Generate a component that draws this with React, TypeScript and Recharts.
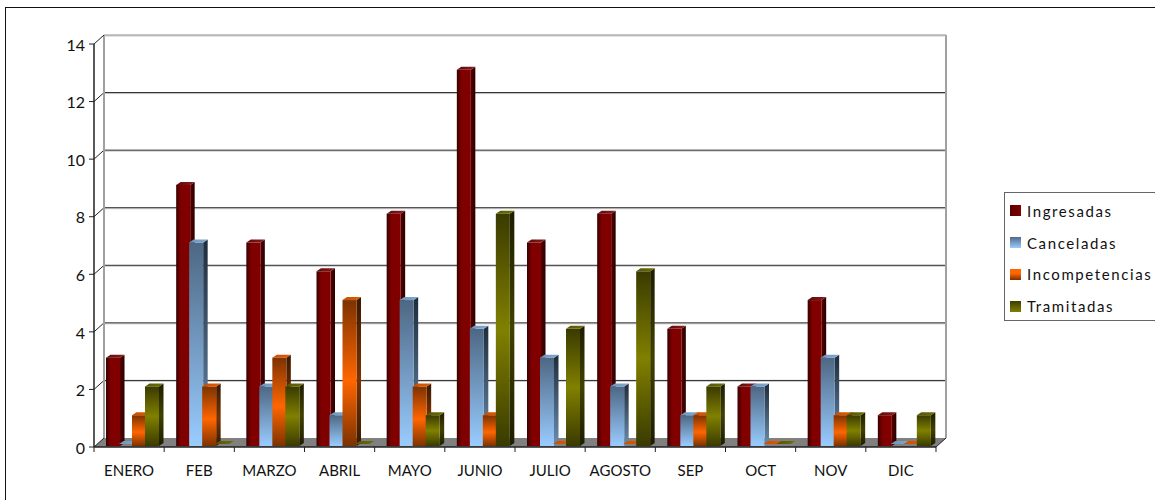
import { Bar, BarChart, CartesianGrid, Legend, XAxis, YAxis } from "recharts";

// values
const months = ["ENERO", "FEB", "MARZO", "ABRIL", "MAYO", "JUNIO", "JULIO", "AGOSTO", "SEP", "OCT", "NOV", "DIC"];
const ingresadas = [3, 9, 7, 6, 8, 13, 7, 8, 4, 2, 5, 1];
const canceladas = [0, 7, 2, 1, 5, 4, 3, 2, 1, 2, 3, 0];
const incompetencias = [1, 2, 3, 5, 2, 1, 0, 0, 1, 0, 1, 0];
const tramitadas = [2, 0, 2, 0, 1, 8, 4, 6, 2, 0, 1, 1];
const yTicks = [0, 2, 4, 6, 8, 10, 12, 14];

const data = months.map((month, i) => ({
  month,
  Ingresadas: ingresadas[i],
  Canceladas: canceladas[i],
  Incompetencias: incompetencias[i],
  Tramitadas: tramitadas[i],
}));

const fontFamily = "Lato, sans-serif";

// how far the back wall sits from the axes
const WALL_X = 10;
const WALL_Y = 9;
// bars stand a bit behind the axis, with a small depth of their own
const BAR_X = 3;
const BAR_Y = -3;
const DEPTH_X = 4.5;
const DEPTH_Y = 3;

const Bar3D = (props: any) => {
  const { x, y, width, height, id } = props;
  const left = x + BAR_X;
  const top = y + BAR_Y;
  const right = left + width + 1;
  // the faces run down to just above the axis line
  const faceHeight = height + 2;
  const bottom = top + faceHeight;
  return (
    <g>
      {height > 0 && (
        <polygon
          points={`${right},${top} ${right + DEPTH_X},${top - DEPTH_Y} ${right + DEPTH_X},${bottom - DEPTH_Y} ${right},${bottom}`}
          fill={`url(#${id}Side)`}
        />
      )}
      {height > 0 && <rect x={left} y={top} width={width + 1} height={faceHeight} fill={`url(#${id}Front)`} />}
      <polygon
        points={`${left},${top} ${left + DEPTH_X},${top - DEPTH_Y} ${right + DEPTH_X},${top - DEPTH_Y} ${right},${top}`}
        fill={`url(#${id}Top)`}
      />
    </g>
  );
};

const GridLine = (props: any) => {
  const { x1, x2, y1, index } = props;
  const isFloor = y1 > 440;
  const isTop = y1 < 50;
  return (
    <g key={index}>
      {isFloor && (
        <polygon
          points={`${x1},${y1} ${x1 + WALL_X},${y1 - WALL_Y} ${x2 + WALL_X},${y1 - WALL_Y} ${x2},${y1}`}
          fill="#808080"
        />
      )}
      {isTop && (
        <>
          <line x1={x1 + WALL_X} x2={x1 + WALL_X} y1={y1 - WALL_Y} y2={y1 + 403 - WALL_Y} stroke="#a0a0a0" strokeWidth={2} />
          <line x1={x2 + WALL_X} x2={x2 + WALL_X} y1={y1 - WALL_Y} y2={y1 + 403 - WALL_Y} stroke="#a0a0a0" strokeWidth={2} />
        </>
      )}
      {!isFloor && (
        <>
          <line x1={x1 + WALL_X} x2={x2 + WALL_X} y1={y1 - WALL_Y + 1} y2={y1 - WALL_Y + 1} stroke="#c8c8c8" />
          <line
            x1={x1 + WALL_X}
            x2={x2 + WALL_X}
            y1={y1 - WALL_Y}
            y2={y1 - WALL_Y}
            stroke={isTop ? "#8c8c8c" : "#2a2a2a"}
          />
        </>
      )}
      <line x1={x1} x2={x1 + WALL_X} y1={y1} y2={y1 - WALL_Y} stroke="#222" />
      {isFloor && <line x1={x2} x2={x2 + WALL_X} y1={y1} y2={y1 - WALL_Y} stroke="#222" />}
    </g>
  );
};

// tick marks fall between the months, not under them
const MonthTick = (props: any) => {
  const { x, y, payload, index } = props;
  const half = 35.08;
  return (
    <g>
      <line x1={x - half} x2={x - half} y1={y - 8} y2={y - 3} stroke="#222" />
      {index === months.length - 1 && <line x1={x + half} x2={x + half} y1={y - 8} y2={y - 3} stroke="#222" />}
      <text x={x} y={y + 21} textAnchor="middle" fontSize={15} fontFamily={fontFamily} fill="#111">
        {payload.value}
      </text>
    </g>
  );
};

const swatches: Record<string, string> = {
  Ingresadas: "linear-gradient(90deg, #5a0000, #800000)",
  Canceladas: "linear-gradient(180deg, #4f6a88, #99ccff)",
  Incompetencias: "linear-gradient(180deg, #ff6600 40%, #7a3000)",
  Tramitadas: "linear-gradient(180deg, #3c3c00, #808000)",
};

const LegendBox = ({ payload }: any) => (
  <div
    style={{
      boxSizing: "border-box",
      width: 160,
      height: 129,
      border: "1.5px solid #666",
      background: "#fff",
      paddingTop: 2,
      fontFamily,
      fontSize: 15,
      letterSpacing: 1.6,
      color: "#111",
    }}
  >
    {(payload || []).map((item: any) => (
      <div key={item.value} style={{ display: "flex", alignItems: "center", height: 31.8, paddingLeft: 5 }}>
        <span style={{ width: 11, height: 11, marginRight: 6, background: swatches[item.value] }} />
        {item.value}
      </div>
    ))}
  </div>
);

const App = () => (
  <div style={{ position: "absolute", left: 0, top: 0, width: 1155, height: 500, overflow: "hidden", background: "#fff" }}>
    <div
      style={{
        position: "absolute",
        left: 5,
        top: 7,
        width: 1160,
        height: 500,
        borderTop: "1.5px solid #111",
        borderLeft: "1.5px solid #111",
      }}
    />
    <BarChart
      width={1155}
      height={500}
      data={data}
      margin={{ top: 44, right: 219, bottom: 23, left: 34 }}
      barSize={13}
      barGap={0}
      style={{ position: "absolute", left: 0, top: 0 }}
    >
      <defs>
        <linearGradient id="redFront" x1="0" y1="0" x2="1" y2="0">
          <stop offset="0" stopColor="#3a0000" />
          <stop offset="0.35" stopColor="#800000" />
          <stop offset="1" stopColor="#800000" />
        </linearGradient>
        <linearGradient id="redSide" x1="0" y1="0" x2="1" y2="0">
          <stop offset="0" stopColor="#560000" />
          <stop offset="1" stopColor="#2a0000" />
        </linearGradient>
        <linearGradient id="redTop" x1="0" y1="0" x2="1" y2="0">
          <stop offset="0" stopColor="#5a0a0a" />
          <stop offset="1" stopColor="#8c1c1c" />
        </linearGradient>
        <linearGradient id="blueFront" x1="0" y1="0" x2="0" y2="1">
          <stop offset="0" stopColor="#4d6783" />
          <stop offset="1" stopColor="#99ccff" />
        </linearGradient>
        <linearGradient id="blueSide" x1="0" y1="0" x2="0" y2="1">
          <stop offset="0" stopColor="#1f2c3a" />
          <stop offset="1" stopColor="#6a8db0" />
        </linearGradient>
        <linearGradient id="blueTop" x1="0" y1="0" x2="1" y2="0">
          <stop offset="0" stopColor="#6f94bb" />
          <stop offset="1" stopColor="#7fa8d0" />
        </linearGradient>
        <linearGradient id="orangeFront" x1="0" y1="0" x2="0" y2="1">
          <stop offset="0" stopColor="#7c3200" />
          <stop offset="0.55" stopColor="#ff6600" />
          <stop offset="1" stopColor="#7c3200" />
        </linearGradient>
        <linearGradient id="orangeSide" x1="0" y1="0" x2="0" y2="1">
          <stop offset="0" stopColor="#3a1800" />
          <stop offset="0.55" stopColor="#7c3200" />
          <stop offset="1" stopColor="#3a1800" />
        </linearGradient>
        <linearGradient id="orangeTop" x1="0" y1="0" x2="1" y2="0">
          <stop offset="0" stopColor="#c95000" />
          <stop offset="1" stopColor="#e05a00" />
        </linearGradient>
        <linearGradient id="oliveFront" x1="0" y1="0" x2="0" y2="1">
          <stop offset="0" stopColor="#3a3a00" />
          <stop offset="0.5" stopColor="#808000" />
          <stop offset="1" stopColor="#3a3a00" />
        </linearGradient>
        <linearGradient id="oliveSide" x1="0" y1="0" x2="0" y2="1">
          <stop offset="0" stopColor="#1c1c00" />
          <stop offset="0.5" stopColor="#404000" />
          <stop offset="1" stopColor="#1c1c00" />
        </linearGradient>
        <linearGradient id="oliveTop" x1="0" y1="0" x2="1" y2="0">
          <stop offset="0" stopColor="#55550a" />
          <stop offset="1" stopColor="#6e6e00" />
        </linearGradient>
      </defs>
      <CartesianGrid vertical={false} horizontal={(p: any) => <GridLine {...p} />} />
      <XAxis
        dataKey="month"
        height={30}
        interval={0}
        tickLine={false}
        axisLine={{ stroke: "#222", strokeWidth: 1.5 }}
        tick={<MonthTick />}
      />
      <YAxis
        width={60}
        domain={[0, 14]}
        ticks={yTicks}
        interval={0}
        tickSize={5}
        tickMargin={4}
        axisLine={{ stroke: "#222", strokeWidth: 1.5 }}
        tickLine={{ stroke: "#222" }}
        tick={{ fontSize: 16, fontFamily, fill: "#111", dy: 1 }}
      />
      <Legend
        layout="horizontal"
        verticalAlign="middle"
        itemSorter={null}
        wrapperStyle={{ left: 1004, top: 192, width: 160, height: 129 }}
        content={<LegendBox />}
      />
      <Bar dataKey="Ingresadas" isAnimationActive={false} shape={(p: any) => <Bar3D {...p} id="red" />} />
      <Bar dataKey="Canceladas" isAnimationActive={false} shape={(p: any) => <Bar3D {...p} id="blue" />} />
      <Bar dataKey="Incompetencias" isAnimationActive={false} shape={(p: any) => <Bar3D {...p} id="orange" />} />
      <Bar dataKey="Tramitadas" isAnimationActive={false} shape={(p: any) => <Bar3D {...p} id="olive" />} />
    </BarChart>
  </div>
);

export default App;
